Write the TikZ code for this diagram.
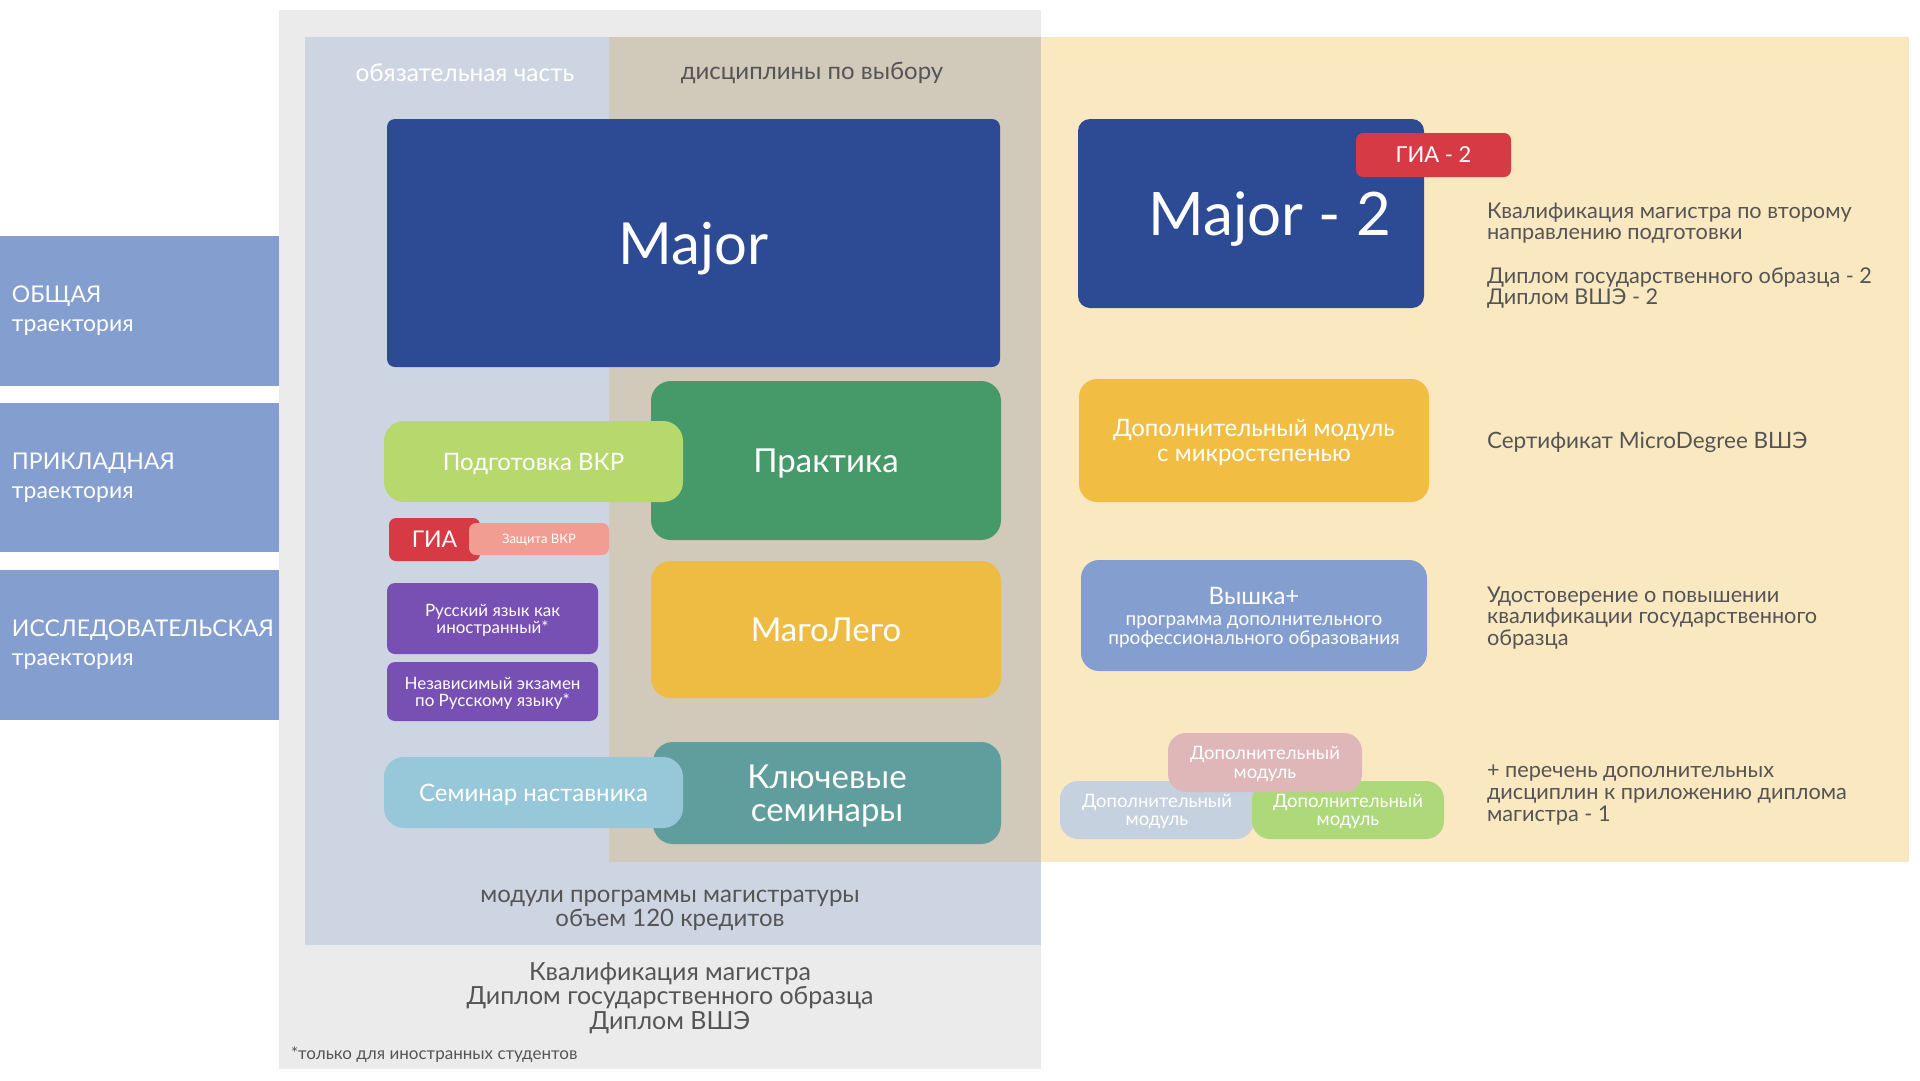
\documentclass[tikz,border=0pt]{standalone}
\usepackage{fontspec}
\setmainfont{Lato}
\definecolor{panelgray}{HTML}{EBEBEB}
\definecolor{panelblue}{HTML}{CED5E2}
\definecolor{paneltan}{HTML}{D1C9BA}
\definecolor{panelyellow}{HTML}{FAE8C0}
\definecolor{trackblue}{HTML}{849FCF}
\definecolor{majorblue}{HTML}{2D4A94}
\definecolor{praktgreen}{HTML}{469A6A}
\definecolor{vkrgreen}{HTML}{B7D86C}
\definecolor{giared}{HTML}{D53A45}
\definecolor{zashpink}{HTML}{F29D92}
\definecolor{purplebox}{HTML}{7850B3}
\definecolor{legoyellow}{HTML}{EEBC42}
\definecolor{seminarblue}{HTML}{96C8DA}
\definecolor{keyteal}{HTML}{5F9E9C}
\definecolor{microyellow}{HTML}{F2BD43}
\definecolor{vyshkablue}{HTML}{849FCF}
\definecolor{modgray}{HTML}{C6D1DF}
\definecolor{modgreen}{HTML}{AED97A}
\definecolor{modpink}{HTML}{DFB7B8}
\definecolor{textgray}{HTML}{555555}
\newcommand\fsz[2]{\fontsize{#1}{#2}\selectfont}
\begin{document}
\begin{tikzpicture}[x=1pt,y=-1pt,
  geom/.style n args={4}{at={({(#1+#3)/2},{(#2+#4)/2})},
     minimum width={(#3-#1)*1pt}, minimum height={(#4-#2)*1pt}},
  panel/.style={rectangle, inner sep=0pt, outer sep=0pt},
  card/.style={panel, rounded corners=#1, text=white, align=center, text depth=0pt},
  card/.default=20pt,
  txt/.style={inner sep=0pt, outer sep=0pt, text=textgray, align=center},
  rtxt/.style={txt, anchor=west, align=left, font=\fsz{21.7}{21.5}},
  tracktext/.style={inner sep=0pt, outer sep=0pt, anchor=west, align=left, text=white, font=\fsz{23}{29}},
]
\useasboundingbox (0,0) rectangle (1920,1080);

% panels
\node[panel, fill=panelgray, geom={279}{10}{1041}{1069}] (outer) {};
\node[panel, fill=panelblue, geom={305}{37}{1041}{945}] (core) {};
\node[panel, fill=paneltan, geom={609}{37}{1041}{862}] (elective) {};
\node[panel, fill=panelyellow, geom={1041}{37}{1909}{862}] (extra) {};

\node[txt, text=white, font=\fsz{24.5}{26}] (corelabel) at (465,73) {обязательная часть};
\node[txt, font=\fsz{24}{26}] (electlabel) at (812,73) {дисциплины по выбору};

% tracks
\node[panel, fill=trackblue, geom={0}{236}{279}{386}] (t1) {};
\node[panel, fill=trackblue, geom={0}{403}{279}{552}] (t2) {};
\node[panel, fill=trackblue, geom={0}{570}{279}{720}] (t3) {};
\node[tracktext] (t1label) at ([xshift=12pt]t1.west) {ОБЩАЯ\\траектория};
\node[tracktext] (t2label) at ([xshift=12pt]t2.west) {ПРИКЛАДНАЯ\\траектория};
\node[tracktext] (t3label) at ([xshift=12pt]t3.west) {ИССЛЕДОВАТЕЛЬСКАЯ\\траектория};

% core modules
\node[card=8pt, fill=majorblue, geom={387}{119}{1000}{367}, font=\fsz{58}{66}] (major) {Major};
\node[card, fill=praktgreen, geom={651}{381}{1001}{540}, font=\fsz{33}{35}] (prakt) {Практика};
\node[card, fill=vkrgreen, geom={384}{421}{683}{502}, font=\fsz{24}{26}] (vkr) {Подготовка ВКР};
\node[card=7pt, fill=giared, geom={389}{518}{480}{561}, font=\fsz{23}{25}] (gia) {ГИА};
\node[card=7pt, fill=zashpink, geom={469}{523}{609}{555}, font=\fsz{13}{15}] (zash) {Защита ВКР};
\node[card=8pt, fill=purplebox, geom={387}{583}{598}{654}, font=\fsz{17}{17}] (rki) {Русский язык как\\иностранный*};
\node[card=8pt, fill=purplebox, geom={387}{662}{598}{721}, font=\fsz{17}{17}] (exam) {Независимый экзамен\\по Русскому языку*};
\node[card, fill=legoyellow, geom={651}{561}{1001}{698}, font=\fsz{33}{35}] (lego) {МагоЛего};
\node[card, fill=keyteal, geom={653}{742}{1001}{844}, font=\fsz{33}{33}] (keysem) {Ключевые\\семинары};
\node[card, fill=seminarblue, geom={384}{757}{683}{828}, font=\fsz{24}{26}] (mentor) {Семинар наставника};

\node[txt, font=\fsz{24}{24}] (modules) at (670,910) {модули программы магистратуры\\объем 120 кредитов};
\node[txt, font=\fsz{25}{24.5}] (diploma) at (670,998) {Квалификация магистра\\Диплом государственного образца\\Диплом ВШЭ};
\node[txt, anchor=west, font=\fsz{17}{19}] (foot) at (291,1055) {*только для иностранных студентов};

% extra modules
\node[card=12pt, fill=majorblue, geom={1078}{119}{1424}{308}] (major2) {};
\node[txt, text=white, font=\fsz{60}{66}, text depth=0pt] (major2label) at (1270,214) {Major - 2};
\node[card=7pt, fill=giared, geom={1356}{133}{1511}{177}, font=\fsz{22}{24}] (gia2) {ГИА - 2};
\node[card=18pt, fill=microyellow, geom={1079}{379}{1429}{502}, font=\fsz{24}{24.5}] (micro) {Дополнительный модуль\\с микростепенью};
\node[card=18pt, fill=vyshkablue, geom={1081}{560}{1427}{671}, font=\fsz{19}{18.5}] (vyshka) {{\fsz{24}{24}Вышка+}\\[3pt]программа дополнительного\\профессионального образования};
\node[card=18pt, fill=modgray, geom={1060}{781}{1254}{839}, font=\fsz{18.5}{18.5}] (modA) {Дополнительный\\модуль};
\node[card=18pt, fill=modgreen, geom={1252}{781}{1444}{839}, font=\fsz{18.5}{18.5}] (modB) {Дополнительный\\модуль};
\node[card=18pt, fill=modpink, geom={1168}{733}{1362}{792}, font=\fsz{18.5}{18.5}] (modC) {Дополнительный\\модуль};

% outcomes
\node[rtxt] (out1) at (1487,223) {Квалификация магистра по второму\\направлению подготовки};
\node[rtxt] (out2) at (1487,288) {Диплом государственного образца - 2\\Диплом ВШЭ - 2};
\node[rtxt, font=\fsz{22.5}{22}] (out3) at (1487,442) {Сертификат MicroDegree ВШЭ};
\node[rtxt] (out4) at (1487,618) {Удостоверение о повышении\\квалификации государственного\\образца};
\node[rtxt, font=\fsz{21.7}{22}] (out5) at (1487,795) {+ перечень дополнительных\\дисциплин к приложению диплома\\магистра - 1};
\end{tikzpicture}
\end{document}
